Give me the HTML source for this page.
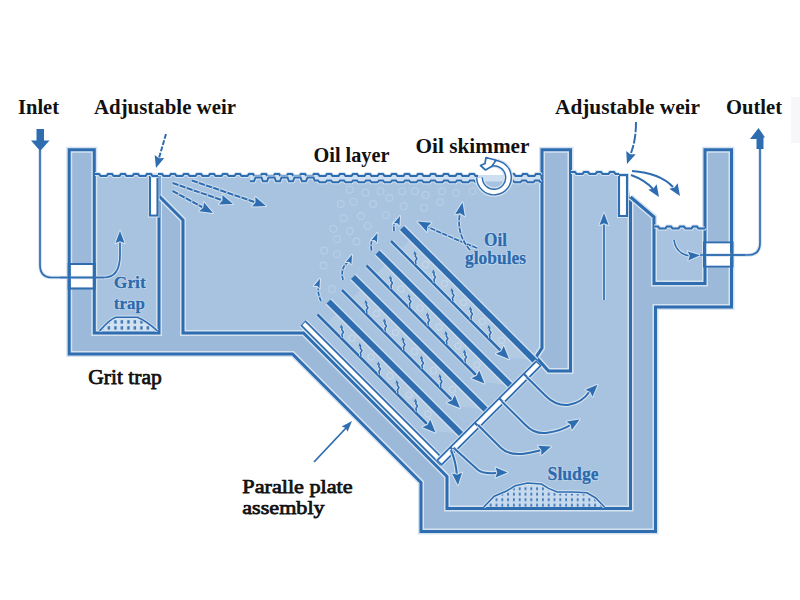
<!DOCTYPE html>
<html><head><meta charset="utf-8">
<style>
html,body{margin:0;padding:0;background:#fff;width:800px;height:600px;overflow:hidden}
svg{display:block}
.lbl{font-family:"Liberation Serif",serif;font-weight:bold;fill:#111}
.lbl2{font-family:"Liberation Serif",serif;font-weight:normal;fill:#111;stroke:#111;stroke-width:0.75}
.blbl{font-family:"Liberation Serif",serif;font-weight:bold;fill:#2c6aae;stroke:#2c6aae;stroke-width:0.35}
.bhalo{font-family:"Liberation Serif",serif;font-weight:bold;fill:#d5e3f1;stroke:#d5e3f1;stroke-width:1.6;stroke-linejoin:round}
</style></head><body>
<svg width="800" height="600" viewBox="0 0 800 600">
<defs>
<pattern id="dots" x="99" y="319" width="6.5" height="6" patternUnits="userSpaceOnUse">
<rect width="6.5" height="6" fill="#d3e2f1"/>
<rect x="2.2" y="1.2" width="2.4" height="3.4" fill="#3a74b5"/>
</pattern>
<pattern id="dots2" x="482" y="486" width="5.8" height="5.5" patternUnits="userSpaceOnUse">
<rect width="5.8" height="5.5" fill="#c8daee"/>
<rect x="2" y="1.3" width="1.8" height="2.8" fill="#3a74b5"/>
</pattern>
</defs>
<rect x="791" y="97" width="9" height="46" fill="#f7f7f9"/>
<path d="M68,148 H95 V175 H541 V148 H571 V173 H627 L630,197 L654,217 V228 H704 V148 H733 V307 H656 V532 H420 V482.5 L292.5,355 H68 Z" fill="#9cb9d9"/>
<path d="M95,175 H158 V332 H95 Z" fill="#a8c3df"/>
<path d="M158,175 H541 V348 L536,356 L548.5,371 H571 V173 H619 V216 H630 V508 H447 V476 L303,332 H183 V220 L158,196 Z" fill="#a8c3df"/>
<path d="M654,228 H704 V283.5 H654 Z" fill="#a8c3df"/>
<path d="M250,175 H315 V179 H250 Z M315,175 H541 V181.5 H315 Z" fill="#cddff0"/>
<path d="M94.3,176 V149.7 H69.2 V354 H292.5 L421,482.5 V531.5 H655.5 V307 H731.5 V149.7 H705 V228" fill="none" stroke="#d5e3f1" stroke-width="6" />
<path d="M94.3,176 V149.7 H69.2 V354 H292.5 L421,482.5 V531.5 H655.5 V307 H731.5 V149.7 H705 V228" fill="none" stroke="#2f6db1" stroke-width="3" />
<path d="M94.3,175 V333 H159 V175" fill="none" stroke="#d5e3f1" stroke-width="6" />
<path d="M94.3,175 V333 H159 V175" fill="none" stroke="#2f6db1" stroke-width="3" />
<path d="M159,196 L183,220 V333 H303.5 L447,476.5 V508.5 H630.5 V197" fill="none" stroke="#d5e3f1" stroke-width="6" />
<path d="M159,196 L183,220 V333 H303.5 L447,476.5 V508.5 H630.5 V197" fill="none" stroke="#2f6db1" stroke-width="3" />
<path d="M542,175 V149.7 H570.5 V371 H548.5 L536,357 L542,348 Z" fill="none" stroke="#d5e3f1" stroke-width="6" />
<path d="M542,175 V149.7 H570.5 V371 H548.5 L536,357 L542,348 Z" fill="none" stroke="#2f6db1" stroke-width="3" />
<path d="M630.5,197 L654,217 V283.5 H705 V228" fill="none" stroke="#d5e3f1" stroke-width="6" />
<path d="M630.5,197 L654,217 V283.5 H705 V228" fill="none" stroke="#2f6db1" stroke-width="3" />
<rect x="70.8" y="264.8" width="21.9" height="22.9" fill="#fff"/>
<path d="M69,264 H95 M69,288.5 H95" stroke="#2f6db1" stroke-width="1.8"/>
<rect x="706.5" y="243.2" width="23.5" height="22.6" fill="#fff"/>
<path d="M704.5,242.3 H732 M704.5,266.7 H732" stroke="#2f6db1" stroke-width="1.8"/>
<path d="M150,175 H157.5 V215.5 H150 Z" fill="none" stroke="#d5e3f1" stroke-width="4" />
<path d="M150,175 H157.5 V215.5 H150 Z" fill="none" stroke="#2f6db1" stroke-width="2.2" />
<rect x="151.2" y="177" width="5" height="37.3" fill="#fff"/>
<path d="M619,175 H627 V216 H619 Z" fill="none" stroke="#d5e3f1" stroke-width="4" />
<path d="M619,175 H627 V216 H619 Z" fill="none" stroke="#2f6db1" stroke-width="2.2" />
<rect x="620.2" y="177" width="5.6" height="37.8" fill="#fff"/>
<path d="M95,174.05 L99,174.05 L100.5,175.95 L106.5,175.95 L108,174.05 L112,174.05 L113.5,175.95 L119.5,175.95 L121,174.05 L125,174.05 L126.5,175.95 L132.5,175.95 L134,174.05 L138,174.05 L139.5,175.95 L145.5,175.95 L147,174.05 L151,174.05 L152.5,175.95 L158,175.95" fill="none" stroke="#d5e3f1" stroke-width="4" />
<path d="M95,174.05 L99,174.05 L100.5,175.95 L106.5,175.95 L108,174.05 L112,174.05 L113.5,175.95 L119.5,175.95 L121,174.05 L125,174.05 L126.5,175.95 L132.5,175.95 L134,174.05 L138,174.05 L139.5,175.95 L145.5,175.95 L147,174.05 L151,174.05 L152.5,175.95 L158,175.95" fill="none" stroke="#2f6db1" stroke-width="2" />
<path d="M158,174.05 L162,174.05 L163.5,175.95 L169.5,175.95 L171,174.05 L175,174.05 L176.5,175.95 L182.5,175.95 L184,174.05 L188,174.05 L189.5,175.95 L195.5,175.95 L197,174.05 L201,174.05 L202.5,175.95 L208.5,175.95 L210,174.05 L214,174.05 L215.5,175.95 L221.5,175.95 L223,174.05 L227,174.05 L228.5,175.95 L234.5,175.95 L236,174.05 L240,174.05 L241.5,175.95 L247.5,175.95 L249,174.05 L253,174.05 L254.5,175.95 L260.5,175.95 L262,174.05 L266,174.05 L267.5,175.95 L273.5,175.95 L275,174.05 L279,174.05 L280.5,175.95 L286.5,175.95 L288,174.05 L292,174.05 L293.5,175.95 L299.5,175.95 L301,174.05 L305,174.05 L306.5,175.95 L312.5,175.95 L314,174.05 L318,174.05 L319.5,175.95 L325.5,175.95 L327,174.05 L331,174.05 L332.5,175.95 L338.5,175.95 L340,174.05 L344,174.05 L345.5,175.95 L351.5,175.95 L353,174.05 L357,174.05 L358.5,175.95 L364.5,175.95 L366,174.05 L370,174.05 L371.5,175.95 L377.5,175.95 L379,174.05 L383,174.05 L384.5,175.95 L390.5,175.95 L392,174.05 L396,174.05 L397.5,175.95 L403.5,175.95 L405,174.05 L409,174.05 L410.5,175.95 L416.5,175.95 L418,174.05 L422,174.05 L423.5,175.95 L429.5,175.95 L431,174.05 L435,174.05 L436.5,175.95 L442.5,175.95 L444,174.05 L448,174.05 L449.5,175.95 L455.5,175.95 L457,174.05 L461,174.05 L462.5,175.95 L468.5,175.95 L470,174.05 L474,174.05 L475.5,175.95 L478,175.95" fill="none" stroke="#d5e3f1" stroke-width="4" />
<path d="M158,174.05 L162,174.05 L163.5,175.95 L169.5,175.95 L171,174.05 L175,174.05 L176.5,175.95 L182.5,175.95 L184,174.05 L188,174.05 L189.5,175.95 L195.5,175.95 L197,174.05 L201,174.05 L202.5,175.95 L208.5,175.95 L210,174.05 L214,174.05 L215.5,175.95 L221.5,175.95 L223,174.05 L227,174.05 L228.5,175.95 L234.5,175.95 L236,174.05 L240,174.05 L241.5,175.95 L247.5,175.95 L249,174.05 L253,174.05 L254.5,175.95 L260.5,175.95 L262,174.05 L266,174.05 L267.5,175.95 L273.5,175.95 L275,174.05 L279,174.05 L280.5,175.95 L286.5,175.95 L288,174.05 L292,174.05 L293.5,175.95 L299.5,175.95 L301,174.05 L305,174.05 L306.5,175.95 L312.5,175.95 L314,174.05 L318,174.05 L319.5,175.95 L325.5,175.95 L327,174.05 L331,174.05 L332.5,175.95 L338.5,175.95 L340,174.05 L344,174.05 L345.5,175.95 L351.5,175.95 L353,174.05 L357,174.05 L358.5,175.95 L364.5,175.95 L366,174.05 L370,174.05 L371.5,175.95 L377.5,175.95 L379,174.05 L383,174.05 L384.5,175.95 L390.5,175.95 L392,174.05 L396,174.05 L397.5,175.95 L403.5,175.95 L405,174.05 L409,174.05 L410.5,175.95 L416.5,175.95 L418,174.05 L422,174.05 L423.5,175.95 L429.5,175.95 L431,174.05 L435,174.05 L436.5,175.95 L442.5,175.95 L444,174.05 L448,174.05 L449.5,175.95 L455.5,175.95 L457,174.05 L461,174.05 L462.5,175.95 L468.5,175.95 L470,174.05 L474,174.05 L475.5,175.95 L478,175.95" fill="none" stroke="#2f6db1" stroke-width="2" />
<path d="M510,174.05 L514,174.05 L515.5,175.95 L521.5,175.95 L523,174.05 L527,174.05 L528.5,175.95 L534.5,175.95 L536,174.05 L540,174.05 L541,175.32" fill="none" stroke="#d5e3f1" stroke-width="4" />
<path d="M510,174.05 L514,174.05 L515.5,175.95 L521.5,175.95 L523,174.05 L527,174.05 L528.5,175.95 L534.5,175.95 L536,174.05 L540,174.05 L541,175.32" fill="none" stroke="#2f6db1" stroke-width="2" />
<path d="M571,172.05 L575,172.05 L576.5,173.95 L582.5,173.95 L584,172.05 L588,172.05 L589.5,173.95 L595.5,173.95 L597,172.05 L601,172.05 L602.5,173.95 L608.5,173.95 L610,172.05 L614,172.05 L615.5,173.95 L619,173.95" fill="none" stroke="#d5e3f1" stroke-width="4" />
<path d="M571,172.05 L575,172.05 L576.5,173.95 L582.5,173.95 L584,172.05 L588,172.05 L589.5,173.95 L595.5,173.95 L597,172.05 L601,172.05 L602.5,173.95 L608.5,173.95 L610,172.05 L614,172.05 L615.5,173.95 L619,173.95" fill="none" stroke="#2f6db1" stroke-width="2" />
<path d="M654,226.55 L658,226.55 L659.5,228.45 L665.5,228.45 L667,226.55 L671,226.55 L672.5,228.45 L678.5,228.45 L680,226.55 L684,226.55 L685.5,228.45 L691.5,228.45 L693,226.55 L697,226.55 L698.5,228.45 L704.5,228.45 L705,227.82" fill="none" stroke="#d5e3f1" stroke-width="4" />
<path d="M654,226.55 L658,226.55 L659.5,228.45 L665.5,228.45 L667,226.55 L671,226.55 L672.5,228.45 L678.5,228.45 L680,226.55 L684,226.55 L685.5,228.45 L691.5,228.45 L693,226.55 L697,226.55 L698.5,228.45 L704.5,228.45 L705,227.82" fill="none" stroke="#2f6db1" stroke-width="2" />
<path d="M250,181.35 L254,181.35 L255.5,177.45 L261.5,177.45 L263,181.35 L267,181.35 L268.5,177.45 L274.5,177.45 L276,181.35 L280,181.35 L281.5,177.45 L287.5,177.45 L289,181.35 L293,181.35 L294.5,177.45 L300.5,177.45 L302,181.35 L306,181.35 L307.5,177.45 L313.5,177.45 L315,181.35" fill="none" stroke="#d5e3f1" stroke-width="4" />
<path d="M250,181.35 L254,181.35 L255.5,177.45 L261.5,177.45 L263,181.35 L267,181.35 L268.5,177.45 L274.5,177.45 L276,181.35 L280,181.35 L281.5,177.45 L287.5,177.45 L289,181.35 L293,181.35 L294.5,177.45 L300.5,177.45 L302,181.35 L306,181.35 L307.5,177.45 L313.5,177.45 L315,181.35" fill="none" stroke="#2f6db1" stroke-width="2" />
<path d="M315,180.45 L318,180.45 L319.5,182.35 L325.5,182.35 L327,180.45 L331,180.45 L332.5,182.35 L338.5,182.35 L340,180.45 L344,180.45 L345.5,182.35 L351.5,182.35 L353,180.45 L357,180.45 L358.5,182.35 L364.5,182.35 L366,180.45 L370,180.45 L371.5,182.35 L377.5,182.35 L379,180.45 L383,180.45 L384.5,182.35 L390.5,182.35 L392,180.45 L396,180.45 L397.5,182.35 L403.5,182.35 L405,180.45 L409,180.45 L410.5,182.35 L416.5,182.35 L418,180.45 L422,180.45 L423.5,182.35 L429.5,182.35 L431,180.45 L435,180.45 L436.5,182.35 L442.5,182.35 L444,180.45 L448,180.45 L449.5,182.35 L455.5,182.35 L457,180.45 L461,180.45 L462.5,182.35 L468.5,182.35 L470,180.45 L474,180.45 L475.5,182.35 L478,182.35" fill="none" stroke="#d5e3f1" stroke-width="4" />
<path d="M315,180.45 L318,180.45 L319.5,182.35 L325.5,182.35 L327,180.45 L331,180.45 L332.5,182.35 L338.5,182.35 L340,180.45 L344,180.45 L345.5,182.35 L351.5,182.35 L353,180.45 L357,180.45 L358.5,182.35 L364.5,182.35 L366,180.45 L370,180.45 L371.5,182.35 L377.5,182.35 L379,180.45 L383,180.45 L384.5,182.35 L390.5,182.35 L392,180.45 L396,180.45 L397.5,182.35 L403.5,182.35 L405,180.45 L409,180.45 L410.5,182.35 L416.5,182.35 L418,180.45 L422,180.45 L423.5,182.35 L429.5,182.35 L431,180.45 L435,180.45 L436.5,182.35 L442.5,182.35 L444,180.45 L448,180.45 L449.5,182.35 L455.5,182.35 L457,180.45 L461,180.45 L462.5,182.35 L468.5,182.35 L470,180.45 L474,180.45 L475.5,182.35 L478,182.35" fill="none" stroke="#2f6db1" stroke-width="2" />
<path d="M510,180.45 L513,180.45 L514.5,182.35 L520.5,182.35 L522,180.45 L526,180.45 L527.5,182.35 L533.5,182.35 L535,180.45 L539,180.45 L540.5,182.35 L541,182.35" fill="none" stroke="#d5e3f1" stroke-width="4" />
<path d="M510,180.45 L513,180.45 L514.5,182.35 L520.5,182.35 L522,180.45 L526,180.45 L527.5,182.35 L533.5,182.35 L535,180.45 L539,180.45 L540.5,182.35 L541,182.35" fill="none" stroke="#2f6db1" stroke-width="2" />
<circle cx="349.7" cy="189.7" r="3.4" fill="none" stroke="#b9cee6" stroke-width="1.1"/>
<circle cx="365.5" cy="192.7" r="3.4" fill="none" stroke="#b9cee6" stroke-width="1.1"/>
<circle cx="380.5" cy="191.2" r="3.4" fill="none" stroke="#b9cee6" stroke-width="1.1"/>
<circle cx="389.5" cy="198" r="3.4" fill="none" stroke="#b9cee6" stroke-width="1.1"/>
<circle cx="402.2" cy="191.2" r="3.4" fill="none" stroke="#b9cee6" stroke-width="1.1"/>
<circle cx="415" cy="191.2" r="3.4" fill="none" stroke="#b9cee6" stroke-width="1.1"/>
<circle cx="425.5" cy="195" r="3.4" fill="none" stroke="#b9cee6" stroke-width="1.1"/>
<circle cx="340.7" cy="204" r="3.4" fill="none" stroke="#b9cee6" stroke-width="1.1"/>
<circle cx="353.5" cy="201.7" r="3.4" fill="none" stroke="#b9cee6" stroke-width="1.1"/>
<circle cx="373" cy="204" r="3.4" fill="none" stroke="#b9cee6" stroke-width="1.1"/>
<circle cx="403.7" cy="206.2" r="3.4" fill="none" stroke="#b9cee6" stroke-width="1.1"/>
<circle cx="424" cy="207.7" r="3.4" fill="none" stroke="#b9cee6" stroke-width="1.1"/>
<circle cx="343.7" cy="218.2" r="3.4" fill="none" stroke="#b9cee6" stroke-width="1.1"/>
<circle cx="361" cy="216" r="3.4" fill="none" stroke="#b9cee6" stroke-width="1.1"/>
<circle cx="385.7" cy="215.2" r="3.4" fill="none" stroke="#b9cee6" stroke-width="1.1"/>
<circle cx="333.2" cy="228.7" r="3.4" fill="none" stroke="#b9cee6" stroke-width="1.1"/>
<circle cx="349.7" cy="231" r="3.4" fill="none" stroke="#b9cee6" stroke-width="1.1"/>
<circle cx="367.7" cy="225.7" r="3.4" fill="none" stroke="#b9cee6" stroke-width="1.1"/>
<circle cx="337" cy="239.2" r="3.4" fill="none" stroke="#b9cee6" stroke-width="1.1"/>
<circle cx="356.5" cy="241.5" r="3.4" fill="none" stroke="#b9cee6" stroke-width="1.1"/>
<circle cx="324.2" cy="250.5" r="3.4" fill="none" stroke="#b9cee6" stroke-width="1.1"/>
<circle cx="337" cy="254.2" r="3.4" fill="none" stroke="#b9cee6" stroke-width="1.1"/>
<circle cx="323.5" cy="265.5" r="3.4" fill="none" stroke="#b9cee6" stroke-width="1.1"/>
<circle cx="441.9" cy="191.25" r="3.4" fill="none" stroke="#b9cee6" stroke-width="1.1"/>
<circle cx="456" cy="193" r="3.4" fill="none" stroke="#b9cee6" stroke-width="1.1"/>
<circle cx="472.5" cy="191" r="3.4" fill="none" stroke="#b9cee6" stroke-width="1.1"/>
<circle cx="440" cy="202" r="3.4" fill="none" stroke="#b9cee6" stroke-width="1.1"/>
<circle cx="332" cy="289" r="3.4" fill="none" stroke="#b9cee6" stroke-width="1.1"/>
<path d="M412,238 L534.5,360.5 L507.5,357.5 L400,250 Z" fill="#b3cae3"/>
<path d="M387.5,262.5 L510,385 L483,382 L375.5,274.5 Z" fill="#b3cae3"/>
<path d="M363,287 L485.5,409.5 L458.5,406.5 L351,299 Z" fill="#b3cae3"/>
<path d="M338.5,311.5 L461,434 L434,431 L326.5,323.5 Z" fill="#b3cae3"/>
<circle cx="425.5" cy="264.5" r="3.2" fill="none" stroke="#c9daed" stroke-width="1"/>
<circle cx="444.5" cy="283.5" r="3.2" fill="none" stroke="#c9daed" stroke-width="1"/>
<circle cx="463.5" cy="302.5" r="3.2" fill="none" stroke="#c9daed" stroke-width="1"/>
<circle cx="482.5" cy="321.5" r="3.2" fill="none" stroke="#c9daed" stroke-width="1"/>
<circle cx="501.5" cy="340.5" r="3.2" fill="none" stroke="#c9daed" stroke-width="1"/>
<circle cx="401" cy="289" r="3.2" fill="none" stroke="#c9daed" stroke-width="1"/>
<circle cx="420" cy="308" r="3.2" fill="none" stroke="#c9daed" stroke-width="1"/>
<circle cx="439" cy="327" r="3.2" fill="none" stroke="#c9daed" stroke-width="1"/>
<circle cx="458" cy="346" r="3.2" fill="none" stroke="#c9daed" stroke-width="1"/>
<circle cx="477" cy="365" r="3.2" fill="none" stroke="#c9daed" stroke-width="1"/>
<circle cx="376.5" cy="313.5" r="3.2" fill="none" stroke="#c9daed" stroke-width="1"/>
<circle cx="395.5" cy="332.5" r="3.2" fill="none" stroke="#c9daed" stroke-width="1"/>
<circle cx="414.5" cy="351.5" r="3.2" fill="none" stroke="#c9daed" stroke-width="1"/>
<circle cx="433.5" cy="370.5" r="3.2" fill="none" stroke="#c9daed" stroke-width="1"/>
<circle cx="452.5" cy="389.5" r="3.2" fill="none" stroke="#c9daed" stroke-width="1"/>
<circle cx="352" cy="338" r="3.2" fill="none" stroke="#c9daed" stroke-width="1"/>
<circle cx="371" cy="357" r="3.2" fill="none" stroke="#c9daed" stroke-width="1"/>
<circle cx="390" cy="376" r="3.2" fill="none" stroke="#c9daed" stroke-width="1"/>
<circle cx="409" cy="395" r="3.2" fill="none" stroke="#c9daed" stroke-width="1"/>
<circle cx="428" cy="414" r="3.2" fill="none" stroke="#c9daed" stroke-width="1"/>
<path d="M402,228 L535.5,361.5" fill="none" stroke="#d5e3f1" stroke-width="8.2" />
<path d="M402,228 L535.5,361.5" fill="none" stroke="#2f6db1" stroke-width="5.8" />
<path d="M377.5,252.5 L511,386" fill="none" stroke="#d5e3f1" stroke-width="8.2" />
<path d="M377.5,252.5 L511,386" fill="none" stroke="#2f6db1" stroke-width="5.8" />
<path d="M353,277 L486.5,410.5" fill="none" stroke="#d5e3f1" stroke-width="8.2" />
<path d="M353,277 L486.5,410.5" fill="none" stroke="#2f6db1" stroke-width="5.8" />
<path d="M328.5,301.5 L462,435" fill="none" stroke="#d5e3f1" stroke-width="8.2" />
<path d="M328.5,301.5 L462,435" fill="none" stroke="#2f6db1" stroke-width="5.8" />
<path d="M391,241 L503,353" fill="none" stroke="#d5e3f1" stroke-width="4.5" />
<path d="M391,241 L503,353" fill="none" stroke="#2f6db1" stroke-width="2.5" />
<path d="M509,359 L495.92,353.7 L501.19,351.19 L503.7,345.92 Z" fill="#2f6db1" stroke="#d5e3f1" stroke-width="2" stroke-linejoin="round"/>
<path d="M509,359 L495.92,353.7 L501.19,351.19 L503.7,345.92 Z" fill="#2f6db1"/>
<path d="M366.5,265.5 L478.5,377.5" fill="none" stroke="#d5e3f1" stroke-width="4.5" />
<path d="M366.5,265.5 L478.5,377.5" fill="none" stroke="#2f6db1" stroke-width="2.5" />
<path d="M484.5,383.5 L471.42,378.2 L476.69,375.69 L479.2,370.42 Z" fill="#2f6db1" stroke="#d5e3f1" stroke-width="2" stroke-linejoin="round"/>
<path d="M484.5,383.5 L471.42,378.2 L476.69,375.69 L479.2,370.42 Z" fill="#2f6db1"/>
<path d="M342,290 L454,402" fill="none" stroke="#d5e3f1" stroke-width="4.5" />
<path d="M342,290 L454,402" fill="none" stroke="#2f6db1" stroke-width="2.5" />
<path d="M460,408 L446.92,402.7 L452.19,400.19 L454.7,394.92 Z" fill="#2f6db1" stroke="#d5e3f1" stroke-width="2" stroke-linejoin="round"/>
<path d="M460,408 L446.92,402.7 L452.19,400.19 L454.7,394.92 Z" fill="#2f6db1"/>
<path d="M317.5,314.5 L429.5,426.5" fill="none" stroke="#d5e3f1" stroke-width="4.5" />
<path d="M317.5,314.5 L429.5,426.5" fill="none" stroke="#2f6db1" stroke-width="2.5" />
<path d="M435.5,432.5 L422.42,427.2 L427.69,424.69 L430.2,419.42 Z" fill="#2f6db1" stroke="#d5e3f1" stroke-width="2" stroke-linejoin="round"/>
<path d="M435.5,432.5 L422.42,427.2 L427.69,424.69 L430.2,419.42 Z" fill="#2f6db1"/>
<path d="M416,264 l-0.6,-3 l1.6,-2.5 l-1.8,-2.5 l0.6,-2.5" fill="none" stroke="#d5e3f1" stroke-width="3.2" />
<path d="M416,264 l-0.6,-3 l1.6,-2.5 l-1.8,-2.5 l0.6,-2.5" fill="none" stroke="#2f6db1" stroke-width="1.5" />
<path d="M414.6,251 L416.44,254.33 L414.9,253.96 L413.46,254.63 Z" fill="#2f6db1"/>
<path d="M434.5,282.5 l-0.6,-3 l1.6,-2.5 l-1.8,-2.5 l0.6,-2.5" fill="none" stroke="#d5e3f1" stroke-width="3.2" />
<path d="M434.5,282.5 l-0.6,-3 l1.6,-2.5 l-1.8,-2.5 l0.6,-2.5" fill="none" stroke="#2f6db1" stroke-width="1.5" />
<path d="M433.1,269.5 L434.94,272.83 L433.4,272.46 L431.96,273.13 Z" fill="#2f6db1"/>
<path d="M453,301 l-0.6,-3 l1.6,-2.5 l-1.8,-2.5 l0.6,-2.5" fill="none" stroke="#d5e3f1" stroke-width="3.2" />
<path d="M453,301 l-0.6,-3 l1.6,-2.5 l-1.8,-2.5 l0.6,-2.5" fill="none" stroke="#2f6db1" stroke-width="1.5" />
<path d="M451.6,288 L453.44,291.33 L451.9,290.96 L450.46,291.63 Z" fill="#2f6db1"/>
<path d="M471.5,319.5 l-0.6,-3 l1.6,-2.5 l-1.8,-2.5 l0.6,-2.5" fill="none" stroke="#d5e3f1" stroke-width="3.2" />
<path d="M471.5,319.5 l-0.6,-3 l1.6,-2.5 l-1.8,-2.5 l0.6,-2.5" fill="none" stroke="#2f6db1" stroke-width="1.5" />
<path d="M470.1,306.5 L471.94,309.83 L470.4,309.46 L468.96,310.13 Z" fill="#2f6db1"/>
<path d="M490,338 l-0.6,-3 l1.6,-2.5 l-1.8,-2.5 l0.6,-2.5" fill="none" stroke="#d5e3f1" stroke-width="3.2" />
<path d="M490,338 l-0.6,-3 l1.6,-2.5 l-1.8,-2.5 l0.6,-2.5" fill="none" stroke="#2f6db1" stroke-width="1.5" />
<path d="M488.6,325 L490.44,328.33 L488.9,327.96 L487.46,328.63 Z" fill="#2f6db1"/>
<path d="M391.5,288.5 l-0.6,-3 l1.6,-2.5 l-1.8,-2.5 l0.6,-2.5" fill="none" stroke="#d5e3f1" stroke-width="3.2" />
<path d="M391.5,288.5 l-0.6,-3 l1.6,-2.5 l-1.8,-2.5 l0.6,-2.5" fill="none" stroke="#2f6db1" stroke-width="1.5" />
<path d="M390.1,275.5 L391.94,278.83 L390.4,278.46 L388.96,279.13 Z" fill="#2f6db1"/>
<path d="M410,307 l-0.6,-3 l1.6,-2.5 l-1.8,-2.5 l0.6,-2.5" fill="none" stroke="#d5e3f1" stroke-width="3.2" />
<path d="M410,307 l-0.6,-3 l1.6,-2.5 l-1.8,-2.5 l0.6,-2.5" fill="none" stroke="#2f6db1" stroke-width="1.5" />
<path d="M408.6,294 L410.44,297.33 L408.9,296.96 L407.46,297.63 Z" fill="#2f6db1"/>
<path d="M428.5,325.5 l-0.6,-3 l1.6,-2.5 l-1.8,-2.5 l0.6,-2.5" fill="none" stroke="#d5e3f1" stroke-width="3.2" />
<path d="M428.5,325.5 l-0.6,-3 l1.6,-2.5 l-1.8,-2.5 l0.6,-2.5" fill="none" stroke="#2f6db1" stroke-width="1.5" />
<path d="M427.1,312.5 L428.94,315.83 L427.4,315.46 L425.96,316.13 Z" fill="#2f6db1"/>
<path d="M447,344 l-0.6,-3 l1.6,-2.5 l-1.8,-2.5 l0.6,-2.5" fill="none" stroke="#d5e3f1" stroke-width="3.2" />
<path d="M447,344 l-0.6,-3 l1.6,-2.5 l-1.8,-2.5 l0.6,-2.5" fill="none" stroke="#2f6db1" stroke-width="1.5" />
<path d="M445.6,331 L447.44,334.33 L445.9,333.96 L444.46,334.63 Z" fill="#2f6db1"/>
<path d="M465.5,362.5 l-0.6,-3 l1.6,-2.5 l-1.8,-2.5 l0.6,-2.5" fill="none" stroke="#d5e3f1" stroke-width="3.2" />
<path d="M465.5,362.5 l-0.6,-3 l1.6,-2.5 l-1.8,-2.5 l0.6,-2.5" fill="none" stroke="#2f6db1" stroke-width="1.5" />
<path d="M464.1,349.5 L465.94,352.83 L464.4,352.46 L462.96,353.13 Z" fill="#2f6db1"/>
<path d="M367,313 l-0.6,-3 l1.6,-2.5 l-1.8,-2.5 l0.6,-2.5" fill="none" stroke="#d5e3f1" stroke-width="3.2" />
<path d="M367,313 l-0.6,-3 l1.6,-2.5 l-1.8,-2.5 l0.6,-2.5" fill="none" stroke="#2f6db1" stroke-width="1.5" />
<path d="M365.6,300 L367.44,303.33 L365.9,302.96 L364.46,303.63 Z" fill="#2f6db1"/>
<path d="M385.5,331.5 l-0.6,-3 l1.6,-2.5 l-1.8,-2.5 l0.6,-2.5" fill="none" stroke="#d5e3f1" stroke-width="3.2" />
<path d="M385.5,331.5 l-0.6,-3 l1.6,-2.5 l-1.8,-2.5 l0.6,-2.5" fill="none" stroke="#2f6db1" stroke-width="1.5" />
<path d="M384.1,318.5 L385.94,321.83 L384.4,321.46 L382.96,322.13 Z" fill="#2f6db1"/>
<path d="M404,350 l-0.6,-3 l1.6,-2.5 l-1.8,-2.5 l0.6,-2.5" fill="none" stroke="#d5e3f1" stroke-width="3.2" />
<path d="M404,350 l-0.6,-3 l1.6,-2.5 l-1.8,-2.5 l0.6,-2.5" fill="none" stroke="#2f6db1" stroke-width="1.5" />
<path d="M402.6,337 L404.44,340.33 L402.9,339.96 L401.46,340.63 Z" fill="#2f6db1"/>
<path d="M422.5,368.5 l-0.6,-3 l1.6,-2.5 l-1.8,-2.5 l0.6,-2.5" fill="none" stroke="#d5e3f1" stroke-width="3.2" />
<path d="M422.5,368.5 l-0.6,-3 l1.6,-2.5 l-1.8,-2.5 l0.6,-2.5" fill="none" stroke="#2f6db1" stroke-width="1.5" />
<path d="M421.1,355.5 L422.94,358.83 L421.4,358.46 L419.96,359.13 Z" fill="#2f6db1"/>
<path d="M441,387 l-0.6,-3 l1.6,-2.5 l-1.8,-2.5 l0.6,-2.5" fill="none" stroke="#d5e3f1" stroke-width="3.2" />
<path d="M441,387 l-0.6,-3 l1.6,-2.5 l-1.8,-2.5 l0.6,-2.5" fill="none" stroke="#2f6db1" stroke-width="1.5" />
<path d="M439.6,374 L441.44,377.33 L439.9,376.96 L438.46,377.63 Z" fill="#2f6db1"/>
<path d="M342.5,337.5 l-0.6,-3 l1.6,-2.5 l-1.8,-2.5 l0.6,-2.5" fill="none" stroke="#d5e3f1" stroke-width="3.2" />
<path d="M342.5,337.5 l-0.6,-3 l1.6,-2.5 l-1.8,-2.5 l0.6,-2.5" fill="none" stroke="#2f6db1" stroke-width="1.5" />
<path d="M341.1,324.5 L342.94,327.83 L341.4,327.46 L339.96,328.13 Z" fill="#2f6db1"/>
<path d="M361,356 l-0.6,-3 l1.6,-2.5 l-1.8,-2.5 l0.6,-2.5" fill="none" stroke="#d5e3f1" stroke-width="3.2" />
<path d="M361,356 l-0.6,-3 l1.6,-2.5 l-1.8,-2.5 l0.6,-2.5" fill="none" stroke="#2f6db1" stroke-width="1.5" />
<path d="M359.6,343 L361.44,346.33 L359.9,345.96 L358.46,346.63 Z" fill="#2f6db1"/>
<path d="M379.5,374.5 l-0.6,-3 l1.6,-2.5 l-1.8,-2.5 l0.6,-2.5" fill="none" stroke="#d5e3f1" stroke-width="3.2" />
<path d="M379.5,374.5 l-0.6,-3 l1.6,-2.5 l-1.8,-2.5 l0.6,-2.5" fill="none" stroke="#2f6db1" stroke-width="1.5" />
<path d="M378.1,361.5 L379.94,364.83 L378.4,364.46 L376.96,365.13 Z" fill="#2f6db1"/>
<path d="M398,393 l-0.6,-3 l1.6,-2.5 l-1.8,-2.5 l0.6,-2.5" fill="none" stroke="#d5e3f1" stroke-width="3.2" />
<path d="M398,393 l-0.6,-3 l1.6,-2.5 l-1.8,-2.5 l0.6,-2.5" fill="none" stroke="#2f6db1" stroke-width="1.5" />
<path d="M396.6,380 L398.44,383.33 L396.9,382.96 L395.46,383.63 Z" fill="#2f6db1"/>
<path d="M416.5,411.5 l-0.6,-3 l1.6,-2.5 l-1.8,-2.5 l0.6,-2.5" fill="none" stroke="#d5e3f1" stroke-width="3.2" />
<path d="M416.5,411.5 l-0.6,-3 l1.6,-2.5 l-1.8,-2.5 l0.6,-2.5" fill="none" stroke="#2f6db1" stroke-width="1.5" />
<path d="M415.1,398.5 L416.94,401.83 L415.4,401.46 L413.96,402.13 Z" fill="#2f6db1"/>
<path d="M303,323 L443,463" fill="none" stroke="#d5e3f1" stroke-width="10" stroke-linejoin="round"/>
<path d="M303,323 L443,463" fill="none" stroke="#2f6db1" stroke-width="7.5" stroke-linejoin="round"/>
<path d="M303.75,323.75 L440,460" fill="none" stroke="#fff" stroke-width="4"/>
<path d="M539,363 L439,463" fill="none" stroke="#d5e3f1" stroke-width="10" />
<path d="M539,363 L439,463" fill="none" stroke="#2f6db1" stroke-width="8" />
<path d="M538,364 L440,462" fill="none" stroke="#fff" stroke-width="4.5"/>
<path d="M523.5,373.5 L528.5,378.5" stroke="#2f6db1" stroke-width="2.2"/>
<path d="M499,398 L504,403" stroke="#2f6db1" stroke-width="2.2"/>
<path d="M474.5,422.5 L479.5,427.5" stroke="#2f6db1" stroke-width="2.2"/>
<path d="M450,447 L455,452" stroke="#2f6db1" stroke-width="2.2"/>
<path d="M526.6,377 L545.8,396 Q556,406 568,405 Q582,403 590,391" fill="none" stroke="#d5e3f1" stroke-width="4.2" />
<path d="M526.6,377 L545.8,396 Q556,406 568,405 Q582,403 590,391" fill="none" stroke="#2f6db1" stroke-width="2" />
<path d="M597.5,384.7 L592.55,396.72 L590.29,391.91 L585.48,389.65 Z" fill="#2f6db1" stroke="#d5e3f1" stroke-width="2" stroke-linejoin="round"/>
<path d="M597.5,384.7 L592.55,396.72 L590.29,391.91 L585.48,389.65 Z" fill="#2f6db1"/>
<path d="M502,401.6 L525.5,425 Q534,434 546,433 Q562,431 572,424" fill="none" stroke="#d5e3f1" stroke-width="4.2" />
<path d="M502,401.6 L525.5,425 Q534,434 546,433 Q562,431 572,424" fill="none" stroke="#2f6db1" stroke-width="2" />
<path d="M579.5,419.6 L571.78,430.06 L570.75,424.85 L566.64,421.49 Z" fill="#2f6db1" stroke="#d5e3f1" stroke-width="2" stroke-linejoin="round"/>
<path d="M579.5,419.6 L571.78,430.06 L570.75,424.85 L566.64,421.49 Z" fill="#2f6db1"/>
<path d="M478,425 L500.7,447.7 Q508,455 522,454 Q536,452 544,449" fill="none" stroke="#d5e3f1" stroke-width="4.2" />
<path d="M478,425 L500.7,447.7 Q508,455 522,454 Q536,452 544,449" fill="none" stroke="#2f6db1" stroke-width="2" />
<path d="M551,446.6 L541.33,455.28 L541.37,449.97 L538.02,445.84 Z" fill="#2f6db1" stroke="#d5e3f1" stroke-width="2" stroke-linejoin="round"/>
<path d="M551,446.6 L541.33,455.28 L541.37,449.97 L538.02,445.84 Z" fill="#2f6db1"/>
<path d="M453.5,447.7 L478,470 Q483,474 496,473 L500,473" fill="none" stroke="#d5e3f1" stroke-width="4.2" />
<path d="M453.5,447.7 L478,470 Q483,474 496,473 L500,473" fill="none" stroke="#2f6db1" stroke-width="2" />
<path d="M507.5,472.5 L495.5,477.5 L497.3,472.5 L495.5,467.5 Z" fill="#2f6db1" stroke="#d5e3f1" stroke-width="2" stroke-linejoin="round"/>
<path d="M507.5,472.5 L495.5,477.5 L497.3,472.5 L495.5,467.5 Z" fill="#2f6db1"/>
<path d="M451,450 Q456,462 457,476" fill="none" stroke="#d5e3f1" stroke-width="4.2" />
<path d="M451,450 Q456,462 457,476" fill="none" stroke="#2f6db1" stroke-width="2" />
<path d="M458,485 L452.06,473.44 L457.19,474.83 L462.03,472.64 Z" fill="#2f6db1" stroke="#d5e3f1" stroke-width="2" stroke-linejoin="round"/>
<path d="M458,485 L452.06,473.44 L457.19,474.83 L462.03,472.64 Z" fill="#2f6db1"/>
<path d="M40,150 V265 Q40,277.5 52,277.5 H104 Q120,277.5 120,255 V242" fill="none" stroke="#d5e3f1" stroke-width="3.6" />
<path d="M40,150 V265 Q40,277.5 52,277.5 H104 Q120,277.5 120,255 V242" fill="none" stroke="#2f6db1" stroke-width="1.7" />
<path d="M120,231 L124.5,243 L120,241.2 L115.5,243 Z" fill="#2f6db1" stroke="#d5e3f1" stroke-width="2" stroke-linejoin="round"/>
<path d="M120,231 L124.5,243 L120,241.2 L115.5,243 Z" fill="#2f6db1"/>
<path d="M36.5,129 H44 V140.5 H49.5 L40.2,151 L31,140.5 H36.5 Z" fill="#2f6db1"/>
<path d="M705,255 H748 Q760,255 760,243 V146" fill="none" stroke="#d5e3f1" stroke-width="3.6" />
<path d="M705,255 H748 Q760,255 760,243 V146" fill="none" stroke="#2f6db1" stroke-width="1.7" />
<path d="M756.5,149 V139 H750 L758.5,128 L765,137.5 H763.5 V149 Z" fill="#2f6db1"/>
<path d="M674,240 Q676,254 690,256" fill="none" stroke="#d5e3f1" stroke-width="3.6" />
<path d="M674,240 Q676,254 690,256" fill="none" stroke="#2f6db1" stroke-width="1.7" />
<path d="M700,255.3 L688.24,260.39 L689.81,255.81 L687.79,251.4 Z" fill="#2f6db1" stroke="#d5e3f1" stroke-width="2" stroke-linejoin="round"/>
<path d="M700,255.3 L688.24,260.39 L689.81,255.81 L687.79,251.4 Z" fill="#2f6db1"/>
<path d="M604,300 V224" fill="none" stroke="#d5e3f1" stroke-width="3.6" />
<path d="M604,300 V224" fill="none" stroke="#2f6db1" stroke-width="1.7" />
<path d="M604,213 L608.5,225 L604,223.2 L599.5,225 Z" fill="#2f6db1" stroke="#d5e3f1" stroke-width="2" stroke-linejoin="round"/>
<path d="M604,213 L608.5,225 L604,223.2 L599.5,225 Z" fill="#2f6db1"/>
<path d="M69.2,263 V289.5 M94.3,263 V289.5 M704.5,241.5 V267.5 M732,241.5 V267.5" stroke="#2f6db1" stroke-width="3"/>
<path d="M60,277.5 H104" stroke="#2f6db1" stroke-width="1.7"/>
<path d="M700,255 H745" stroke="#2f6db1" stroke-width="1.7"/>
<path d="M166,134 L159,158" fill="none" stroke="#2f6db1" stroke-width="2" stroke-dasharray="5,1.5"/>
<path d="M156,168 L154.66,155.07 L158.93,158.23 L164.24,157.94 Z" fill="#2f6db1"/>
<path d="M636,122 Q636,140 631,153" fill="none" stroke="#2f6db1" stroke-width="2" stroke-dasharray="10,1.5"/>
<path d="M627,164 L626.24,151.02 L630.37,154.37 L635.68,154.33 Z" fill="#2f6db1"/>
<path d="M631,175 Q645,180 653,189" fill="none" stroke="#2f6db1" stroke-width="2"/>
<path d="M659,197 L648.27,189.66 L653.44,188.45 L656.65,184.21 Z" fill="#2f6db1"/>
<path d="M632,171 Q660,173 673,187" fill="none" stroke="#2f6db1" stroke-width="2"/>
<path d="M680,196 L669.27,188.66 L674.44,187.45 L677.65,183.21 Z" fill="#2f6db1"/>
<path d="M172.7,191 L205.1,208.69" fill="none" stroke="#d5e3f1" stroke-width="4.2" stroke-dasharray="6,1.5"/>
<path d="M172.7,191 L205.1,208.69" fill="none" stroke="#2f6db1" stroke-width="2.1" stroke-dasharray="6,1.5"/>
<path d="M213,213 L199.19,211.16 L203.3,207.71 L203.99,202.38 Z" fill="#2f6db1" stroke="#d5e3f1" stroke-width="2" stroke-linejoin="round"/>
<path d="M213,213 L199.19,211.16 L203.3,207.71 L203.99,202.38 Z" fill="#2f6db1"/>
<path d="M172.7,183 L224.5,201.04" fill="none" stroke="#d5e3f1" stroke-width="4.2" stroke-dasharray="6,1.5"/>
<path d="M172.7,183 L224.5,201.04" fill="none" stroke="#2f6db1" stroke-width="2.1" stroke-dasharray="6,1.5"/>
<path d="M233,204 L219.08,204.45 L222.56,200.37 L222.37,195 Z" fill="#2f6db1" stroke="#d5e3f1" stroke-width="2" stroke-linejoin="round"/>
<path d="M233,204 L219.08,204.45 L222.56,200.37 L222.37,195 Z" fill="#2f6db1"/>
<path d="M192,180.5 L257.49,203.07" fill="none" stroke="#d5e3f1" stroke-width="4.2" stroke-dasharray="6,1.5"/>
<path d="M192,180.5 L257.49,203.07" fill="none" stroke="#2f6db1" stroke-width="2.1" stroke-dasharray="6,1.5"/>
<path d="M266,206 L252.08,206.49 L255.55,202.4 L255.34,197.04 Z" fill="#2f6db1" stroke="#d5e3f1" stroke-width="2" stroke-linejoin="round"/>
<path d="M266,206 L252.08,206.49 L255.55,202.4 L255.34,197.04 Z" fill="#2f6db1"/>
<path d="M314,462 L346,428" fill="none" stroke="#2f6db1" stroke-width="1.8"/>
<path d="M352,421 L347.56,431.83 L345.71,427.92 L341.64,426.45 Z" fill="#2f6db1"/>
<path d="M477,248 Q452,238 428,227" fill="none" stroke="#d5e3f1" stroke-width="3.8" stroke-dasharray="5,1.5"/>
<path d="M477,248 Q452,238 428,227" fill="none" stroke="#2f6db1" stroke-width="1.8" stroke-dasharray="5,1.5"/>
<path d="M417.5,221.5 L431.36,222.84 L427.38,226.44 L426.89,231.79 Z" fill="#2f6db1" stroke="#d5e3f1" stroke-width="2" stroke-linejoin="round"/>
<path d="M417.5,221.5 L431.36,222.84 L427.38,226.44 L426.89,231.79 Z" fill="#2f6db1"/>
<path d="M470,250 Q456,234 460,213" fill="none" stroke="#d5e3f1" stroke-width="3.8" stroke-dasharray="5,1.5"/>
<path d="M470,250 Q456,234 460,213" fill="none" stroke="#2f6db1" stroke-width="1.8" stroke-dasharray="5,1.5"/>
<path d="M462.5,202.5 L464.85,216.23 L460.33,213.34 L455.05,214.27 Z" fill="#2f6db1" stroke="#d5e3f1" stroke-width="2" stroke-linejoin="round"/>
<path d="M462.5,202.5 L464.85,216.23 L460.33,213.34 L455.05,214.27 Z" fill="#2f6db1"/>
<path d="M321,301 Q316,290 320,285" fill="none" stroke="#d5e3f1" stroke-width="3.8" stroke-dasharray="4,1.5"/>
<path d="M321,301 Q316,290 320,285" fill="none" stroke="#2f6db1" stroke-width="1.8" stroke-dasharray="4,1.5"/>
<path d="M320,278.7 L319.44,288.17 L317.16,285.8 L313.87,285.94 Z" fill="#2f6db1" stroke="#d5e3f1" stroke-width="2" stroke-linejoin="round"/>
<path d="M320,278.7 L319.44,288.17 L317.16,285.8 L313.87,285.94 Z" fill="#2f6db1"/>
<path d="M343,280 Q340,268 348,262" fill="none" stroke="#d5e3f1" stroke-width="3.8" stroke-dasharray="4,1.5"/>
<path d="M343,280 Q340,268 348,262" fill="none" stroke="#2f6db1" stroke-width="1.8" stroke-dasharray="4,1.5"/>
<path d="M352,254.7 L351.44,264.17 L349.16,261.8 L345.87,261.94 Z" fill="#2f6db1" stroke="#d5e3f1" stroke-width="2" stroke-linejoin="round"/>
<path d="M352,254.7 L351.44,264.17 L349.16,261.8 L345.87,261.94 Z" fill="#2f6db1"/>
<path d="M371.5,250.5 Q370,241 374,238" fill="none" stroke="#d5e3f1" stroke-width="3.8" stroke-dasharray="4,1.5"/>
<path d="M371.5,250.5 Q370,241 374,238" fill="none" stroke="#2f6db1" stroke-width="1.8" stroke-dasharray="4,1.5"/>
<path d="M377.5,233 L376.94,242.47 L374.66,240.1 L371.37,240.24 Z" fill="#2f6db1" stroke="#d5e3f1" stroke-width="2" stroke-linejoin="round"/>
<path d="M377.5,233 L376.94,242.47 L374.66,240.1 L371.37,240.24 Z" fill="#2f6db1"/>
<path d="M394,231 Q393,222 397,220" fill="none" stroke="#d5e3f1" stroke-width="3.8" stroke-dasharray="4,1.5"/>
<path d="M394,231 Q393,222 397,220" fill="none" stroke="#2f6db1" stroke-width="1.8" stroke-dasharray="4,1.5"/>
<path d="M400,216 L399.44,225.47 L397.16,223.1 L393.87,223.24 Z" fill="#2f6db1" stroke="#d5e3f1" stroke-width="2" stroke-linejoin="round"/>
<path d="M400,216 L399.44,225.47 L397.16,223.1 L393.87,223.24 Z" fill="#2f6db1"/>
<path d="M479.5,177.5 A14.5,14.5 0 1 0 490,163.6" fill="none" stroke="#d5e3f1" stroke-width="9.5"/>
<path d="M479.5,177.5 A14.5,14.5 0 1 0 490,163.6" fill="none" stroke="#2f6db1" stroke-width="7"/>
<path d="M479.5,177.5 A14.5,14.5 0 1 0 490,163.6" fill="none" stroke="#fff" stroke-width="4.2"/>
<path d="M486,157.5 L496,160.2 L491.5,166.6 L485.5,170 L480.5,165.5 L485,163.5 Z" fill="#fff" stroke="#2f6db1" stroke-width="1.7" stroke-linejoin="round"/>
<path d="M487,161 L494,161.6 L491,165.5 Z" fill="#fff"/>
<path d="M99.5,331 C104,326 110,319 116,317.3 L137.5,317.3 C146,321 151,325 157.5,331 Z" fill="url(#dots)"/>
<path d="M99.5,331 C104,326 110,319 116,317.3 L137.5,317.3 C146,321 151,325 157.5,331" fill="none" stroke="#d5e3f1" stroke-width="3.4" />
<path d="M99.5,331 C104,326 110,319 116,317.3 L137.5,317.3 C146,321 151,325 157.5,331" fill="none" stroke="#2f6db1" stroke-width="1.6" />
<path d="M483.75,507 L494.25,496.25 L506.5,491 L515.25,485.75 L527.5,483 L541.5,484 L548.5,488.4 L557.25,492 L573,492 L587,492.75 L595.75,498 L604.5,507 Z" fill="url(#dots2)"/>
<path d="M483.75,507 L494.25,496.25 L506.5,491 L515.25,485.75 L527.5,483 L541.5,484 L548.5,488.4 L557.25,492 L573,492 L587,492.75 L595.75,498 L604.5,507" fill="none" stroke="#d5e3f1" stroke-width="3.4" />
<path d="M483.75,507 L494.25,496.25 L506.5,491 L515.25,485.75 L527.5,483 L541.5,484 L548.5,488.4 L557.25,492 L573,492 L587,492.75 L595.75,498 L604.5,507" fill="none" stroke="#2f6db1" stroke-width="1.6" />
<text class="lbl" x="18" y="114" font-size="20" textLength="41" lengthAdjust="spacingAndGlyphs">Inlet</text>
<text class="lbl" x="94" y="114" font-size="20" textLength="142" lengthAdjust="spacingAndGlyphs">Adjustable weir</text>
<text class="lbl" x="555" y="114" font-size="20" textLength="145" lengthAdjust="spacingAndGlyphs">Adjustable weir</text>
<text class="lbl" x="726" y="114" font-size="20" textLength="56" lengthAdjust="spacingAndGlyphs">Outlet</text>
<text class="lbl" x="313.5" y="162.4" font-size="20" textLength="76" lengthAdjust="spacingAndGlyphs">Oil layer</text>
<text class="lbl" x="415.5" y="152.5" font-size="20.5" textLength="114" lengthAdjust="spacingAndGlyphs">Oil skimmer</text>
<text class="lbl2" x="88.3" y="384.3" font-size="20.8" textLength="73.5" lengthAdjust="spacingAndGlyphs">Grit trap</text>
<text class="lbl2" x="242.3" y="493" font-size="19" textLength="110.3" lengthAdjust="spacingAndGlyphs">Paralle plate</text>
<text class="lbl2" x="242.3" y="514" font-size="19" textLength="82.3" lengthAdjust="spacingAndGlyphs">assembly</text>
<text class="bhalo" x="113.8" y="288" font-size="17.6" textLength="32" lengthAdjust="spacingAndGlyphs">Grit</text>
<text class="blbl" x="113.8" y="288" font-size="17.6" textLength="32" lengthAdjust="spacingAndGlyphs">Grit</text>
<text class="bhalo" x="113.8" y="308.5" font-size="17.6" textLength="31" lengthAdjust="spacingAndGlyphs">trap</text>
<text class="blbl" x="113.8" y="308.5" font-size="17.6" textLength="31" lengthAdjust="spacingAndGlyphs">trap</text>
<text class="bhalo" x="484" y="246.3" font-size="18" textLength="23" lengthAdjust="spacingAndGlyphs">Oil</text>
<text class="blbl" x="484" y="246.3" font-size="18" textLength="23" lengthAdjust="spacingAndGlyphs">Oil</text>
<text class="bhalo" x="465" y="264" font-size="18" textLength="61" lengthAdjust="spacingAndGlyphs">globules</text>
<text class="blbl" x="465" y="264" font-size="18" textLength="61" lengthAdjust="spacingAndGlyphs">globules</text>
<text class="bhalo" x="547.6" y="480" font-size="18.6" textLength="51" lengthAdjust="spacingAndGlyphs">Sludge</text>
<text class="blbl" x="547.6" y="480" font-size="18.6" textLength="51" lengthAdjust="spacingAndGlyphs">Sludge</text>
</svg>
</body></html>
